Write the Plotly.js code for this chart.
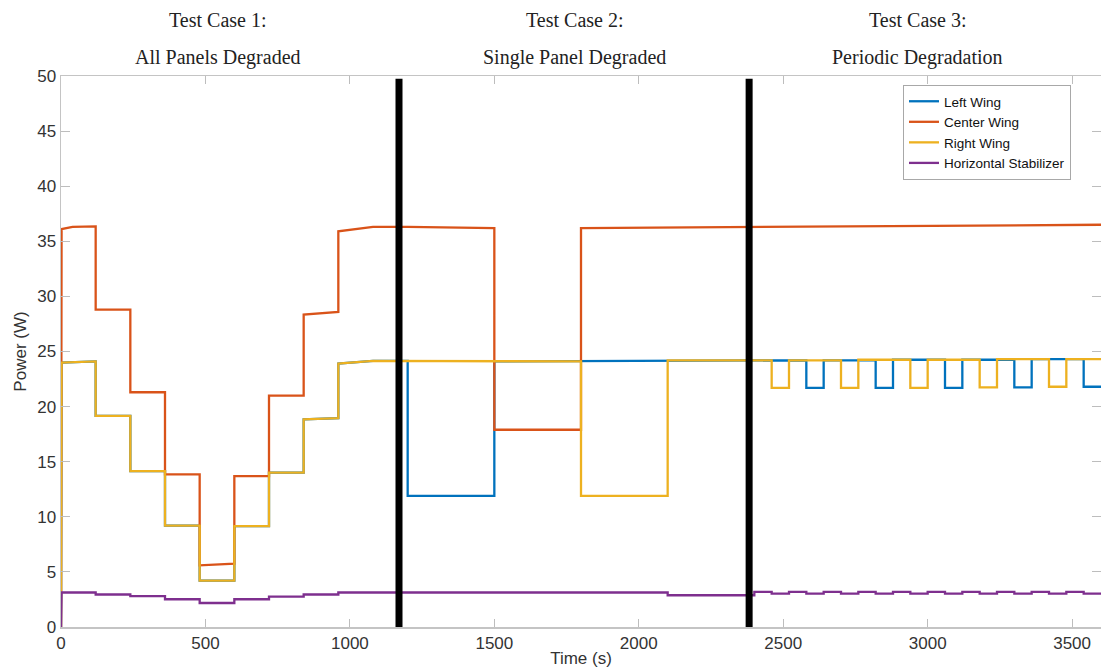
<!DOCTYPE html>
<html>
<head>
<meta charset="utf-8">
<script src="https://cdn.plot.ly/plotly-3.0.1.min.js"></script>
<style>
  html, body { margin: 0; padding: 0; background: #fff; }
  #chart { width: 1101px; height: 668px; }
</style>
</head>
<body>
<div id="chart"></div>
<script>
// ---------------- Data ----------------
const seriesNames = ['Left Wing', 'Center Wing', 'Right Wing', 'Horizontal Stabilizer'];

const leftWingTime = [0, 2, 120, 120, 240, 240, 360, 360, 480, 480, 600, 600, 720, 720, 840, 840, 960, 960, 1080,
  1200, 1200, 1500, 1500, 2100, 2580, 2580, 2640, 2640, 2820, 2820, 2880, 2880, 3060, 3060, 3120, 3120,
  3300, 3300, 3360, 3360, 3540, 3540, 3600];
const leftWingPower = [0, 24.0, 24.1, 19.15, 19.15, 14.15, 14.15, 9.2, 9.2, 4.2, 4.2, 9.15, 9.15, 14.0, 14.0, 18.85, 18.95, 23.9, 24.15,
  24.15, 11.9, 11.9, 24.1, 24.15, 24.2, 21.7, 21.7, 24.2, 24.2, 21.7, 21.7, 24.25, 24.25, 21.7, 21.7, 24.25,
  24.25, 21.75, 21.75, 24.3, 24.3, 21.8, 21.8];

const centerWingTime = [0, 2, 40, 120, 120, 240, 240, 360, 360, 480, 480, 600, 600, 720, 720, 840, 840, 960, 960, 1080,
  1200, 1500, 1500, 1800, 1800, 2100, 2400, 3600];
const centerWingPower = [0, 36.1, 36.3, 36.35, 28.8, 28.8, 21.3, 21.3, 13.85, 13.85, 5.6, 5.75, 13.7, 13.7, 21.0, 21.0, 28.35, 28.6, 35.9, 36.3,
  36.3, 36.2, 17.9, 17.9, 36.2, 36.25, 36.35, 36.5];

const rightWingTime = [0, 2, 120, 120, 240, 240, 360, 360, 480, 480, 600, 600, 720, 720, 840, 840, 960, 960, 1080,
  1800, 1800, 2100, 2100, 2460, 2460, 2520, 2520, 2700, 2700, 2760, 2760, 2940, 2940, 3000, 3000,
  3180, 3180, 3240, 3240, 3420, 3420, 3480, 3480, 3600];
const rightWingPower = [0, 24.0, 24.1, 19.15, 19.15, 14.15, 14.15, 9.2, 9.2, 4.2, 4.2, 9.15, 9.15, 14.0, 14.0, 18.85, 18.95, 23.9, 24.15,
  24.1, 11.9, 11.9, 24.2, 24.2, 21.7, 21.7, 24.2, 24.2, 21.7, 21.7, 24.25, 24.25, 21.7, 21.7, 24.25,
  24.25, 21.75, 21.75, 24.3, 24.3, 21.8, 21.8, 24.3, 24.3];

const stabilizerTime = [0, 2, 120, 120, 240, 240, 360, 360, 480, 480, 600, 600, 720, 720, 840, 840, 960, 960,
  2100, 2100, 2400, 2400, 2460, 2460, 2520, 2520, 2580, 2580, 2640, 2640, 2700, 2700, 2760, 2760,
  2820, 2820, 2880, 2880, 2940, 2940, 3000, 3000, 3060, 3060, 3120, 3120, 3180, 3180, 3240, 3240,
  3300, 3300, 3360, 3360, 3420, 3420, 3480, 3480, 3540, 3540, 3600];
const stabilizerPower = [0, 3.13, 3.13, 2.95, 2.95, 2.8, 2.8, 2.52, 2.52, 2.18, 2.18, 2.52, 2.52, 2.76, 2.76, 2.95, 2.95, 3.13,
  3.13, 2.88, 2.88, 3.18, 3.18, 3.03, 3.03, 3.18, 3.18, 3.03, 3.03, 3.18, 3.18, 3.03, 3.03, 3.18,
  3.18, 3.03, 3.03, 3.18, 3.18, 3.03, 3.03, 3.18, 3.18, 3.03, 3.03, 3.18, 3.18, 3.03, 3.03, 3.18,
  3.18, 3.03, 3.03, 3.18, 3.18, 3.03, 3.03, 3.18, 3.18, 3.03, 3.03];

const dividerTimes = [1170, 2382];
const dividerTop = 49.75;

const caseTitles = ['Test Case 1:', 'Test Case 2:', 'Test Case 3:'];
const caseNames = ['All Panels Degraded', 'Single Panel Degraded', 'Periodic Degradation'];

const xTickValues = [0, 500, 1000, 1500, 2000, 2500, 3000, 3500];
const yTickValues = [0, 5, 10, 15, 20, 25, 30, 35, 40, 45, 50];

// ---------------- Styling / layout ----------------
const colors = ['#0072BD', '#D95319', '#EDB120', '#7E2F8E'];
const seriesTimes = [leftWingTime, centerWingTime, rightWingTime, stabilizerTime];
const seriesPowers = [leftWingPower, centerWingPower, rightWingPower, stabilizerPower];

const traces = seriesNames.map((name, i) => ({
  type: 'scatter',
  mode: 'lines',
  name: name,
  x: seriesTimes[i],
  y: seriesPowers[i],
  line: { color: colors[i], width: 2.3 },
  hoverinfo: 'skip'
}));

const caseCentersX = [543, 1779, 2966];  // horizontal centres of the header texts (time units)
const annotations = [];
caseTitles.forEach((t, i) => {
  annotations.push({
    xref: 'x', yref: 'paper', x: caseCentersX[i], y: 1.1016, xanchor: 'center', yanchor: 'middle',
    text: t, showarrow: false,
    font: { family: '"Liberation Serif", "Times New Roman", serif', size: 20, color: '#222' }
  });
  annotations.push({
    xref: 'x', yref: 'paper', x: caseCentersX[i], y: 1.0336, xanchor: 'center', yanchor: 'middle',
    text: caseNames[i], showarrow: false,
    font: { family: '"Liberation Serif", "Times New Roman", serif', size: 20, color: '#222' }
  });
});

const shapes = dividerTimes.map(t => ({
  type: 'line', xref: 'x', yref: 'y',
  x0: t, x1: t, y0: 0, y1: dividerTop,
  line: { color: '#000', width: 7 },
  layer: 'above'
}));

const axisFont = { family: '"Liberation Sans", Arial, Helvetica, sans-serif', size: 17, color: '#333' };

const layout = {
  width: 1101,
  height: 668,
  paper_bgcolor: '#fff',
  plot_bgcolor: '#fff',
  margin: { l: 61, r: 0, t: 76, b: 41 },
  showlegend: true,
  legend: {
    x: 0.8096, y: 0.9837, xanchor: 'left', yanchor: 'top',
    bgcolor: '#fff', bordercolor: '#a8a8a8', borderwidth: 1,
    font: { family: '"Liberation Sans", Arial, sans-serif', size: 13.5, color: '#111' },
    tracegroupgap: 0
  },
  xaxis: {
    range: [0, 3600],
    tickvals: xTickValues,
    ticktext: xTickValues.map(String),
    ticks: 'inside', ticklen: 8, tickcolor: '#bdbdbd', tickwidth: 1,
    showline: true, linecolor: '#c4c4c4', linewidth: 1.5, mirror: 'ticks',
    showgrid: false, zeroline: false,
    tickfont: axisFont,
    title: { text: 'Time (s)', font: axisFont, standoff: 2 }
  },
  yaxis: {
    range: [0, 50],
    tickvals: yTickValues,
    ticktext: yTickValues.map(String),
    ticks: 'inside', ticklen: 9, tickcolor: '#bdbdbd', tickwidth: 1,
    showline: true, linecolor: '#c4c4c4', linewidth: 1.5, mirror: 'ticks',
    showgrid: false, zeroline: false,
    tickfont: axisFont,
    title: { text: 'Power (W)', font: axisFont, standoff: 6 }
  },
  annotations: annotations,
  shapes: shapes
};

Plotly.newPlot('chart', traces, layout, { displayModeBar: false, staticPlot: true });
</script>
</body>
</html>
